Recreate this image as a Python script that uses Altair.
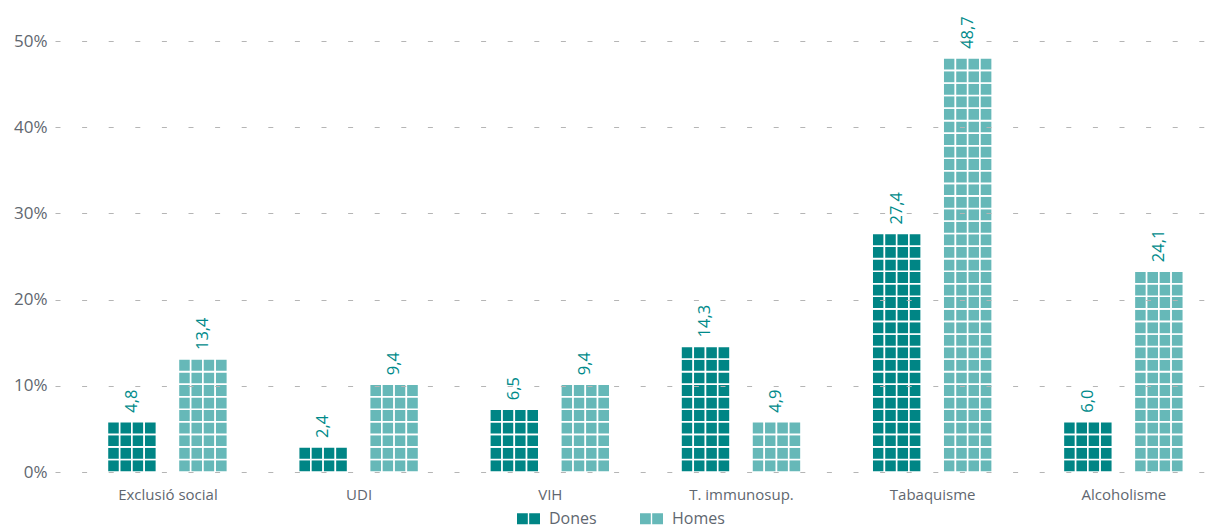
import altair as alt
import pandas as pd

# ---- data ----
categories = ["Exclusió social", "UDI", "VIH", "T. immunosup.", "Tabaquisme", "Alcoholisme"]
series = ["Dones", "Homes"]
dones = [4.8, 2.4, 6.5, 14.3, 27.4, 6.0]
homes = [13.4, 9.4, 9.4, 4.9, 48.7, 24.1]
# number of square rows stacked in each bar, as seen in the picture
dones_rows = [4, 2, 5, 10, 19, 4]
homes_rows = [9, 7, 7, 4, 33, 16]
y_ticks = [0, 10, 20, 30, 40, 50]

# ---- layout / style constants ----
UNIT = 1.456      # height of one square, in %
COLS = 4          # squares per row
BAR_W = 0.2563    # bar width, in category steps
HALF_GAP = 0.0575 # half of the gap between the two bars of a group

tile_rows = []
label_rows = []
for i, cat in enumerate(categories):
    for s, (vals, nrows) in enumerate([(dones, dones_rows), (homes, homes_rows)]):
        left = i - HALF_GAP - BAR_W if s == 0 else i + HALF_GAP
        cw = BAR_W / COLS
        for k in range(nrows[i]):
            for c in range(COLS):
                tile_rows.append(dict(serie=series[s], x=left + c * cw, x2=left + (c + 1) * cw,
                                      y=k * UNIT, y2=(k + 1) * UNIT))
        label_rows.append(dict(serie=series[s], xc=left + BAR_W / 2, top=nrows[i] * UNIT,
                               label=f"{vals[i]:.1f}".replace(".", ",")))

tiles_df = pd.DataFrame(tile_rows)
labels_df = pd.DataFrame(label_rows)

FONT = "Open Sans"
GRAY = "#5f6770"

xscale = alt.Scale(domain=[-0.588, 5.427], nice=False, zero=False)
yscale = alt.Scale(domain=[0, 50], nice=False, zero=True)
cscale = alt.Scale(domain=series, range=["#008585", "#66b8b8"])

cat_expr = "[" + ",".join("'" + c + "'" for c in categories) + "][datum.value]"

tiles = alt.Chart(tiles_df).mark_rect(stroke="white", strokeWidth=1.6).encode(
    x=alt.X("x:Q", scale=xscale,
            axis=alt.Axis(values=list(range(len(categories))), labelExpr=cat_expr, grid=False,
                          ticks=False, domain=False, labelPadding=15, labelFontSize=15,
                          labelColor=GRAY, labelFont=FONT, title=None)),
    x2="x2:Q",
    y=alt.Y("y:Q", scale=yscale,
            axis=alt.Axis(values=y_ticks, labelExpr="datum.value + '%'", grid=True,
                          gridDash=[5, 21.6], gridColor="#b5b5b5", gridWidth=1,
                          ticks=False, domain=False, labelPadding=8, labelFontSize=17,
                          labelColor=GRAY, labelFont=FONT, title=None, zindex=1)),
    y2="y2:Q",
    color=alt.Color("serie:N", scale=cscale,
                    legend=alt.Legend(title=None, orient="none", direction="horizontal",
                                      legendX=462, legendY=466, padding=0,
                                      symbolType="M-1,-0.48H-0.06V0.48H-1Z M0.06,-0.48H1V0.48H0.06Z",
                                      symbolSize=529, symbolStrokeWidth=0, symbolOpacity=1,
                                      labelFontSize=16, labelColor=GRAY, labelFont=FONT,
                                      labelOffset=9, columnPadding=43)),
)

texts = alt.Chart(labels_df).mark_text(
    angle=270, align="left", baseline="middle", dx=9, fontSize=16.5, color="#008a8a", font=FONT
).encode(
    x=alt.X("xc:Q", scale=xscale),
    y=alt.Y("top:Q", scale=yscale),
    text="label:N",
)

chart = alt.layer(tiles, texts).properties(
    width=1150, height=431,
    padding={"left": 47, "top": 33, "right": 10, "bottom": 57},
    autosize=alt.AutoSizeParams(type="none"),
).configure_view(strokeWidth=0)

chart.save("out.html", embed_options={"renderer": "svg", "actions": False})
